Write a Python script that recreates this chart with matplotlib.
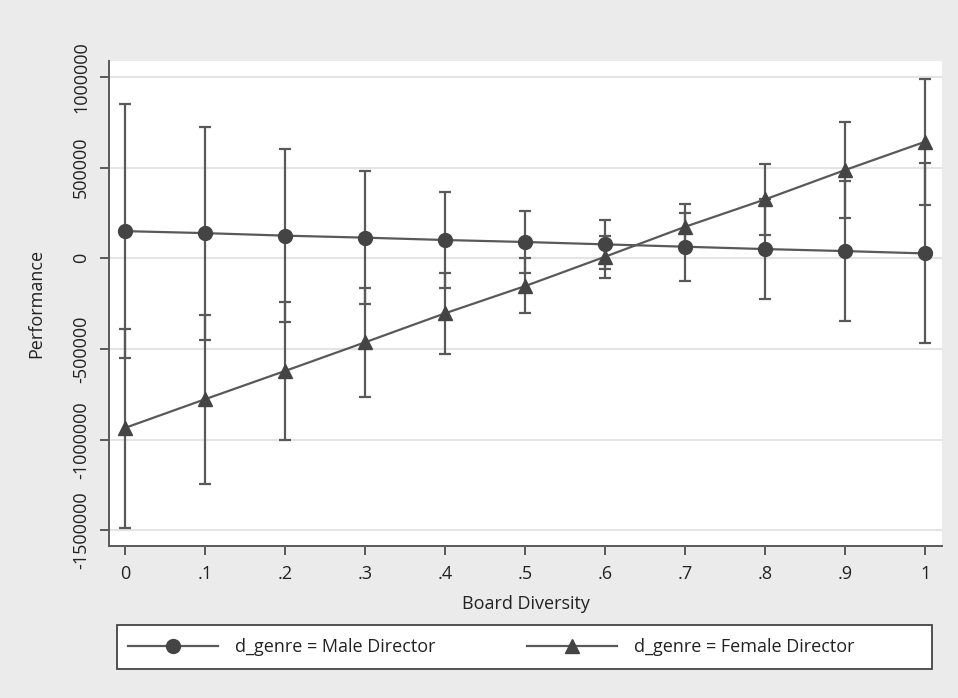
import numpy as np
import matplotlib
matplotlib.use("Agg")
import matplotlib.pyplot as plt
from matplotlib.patches import Rectangle

plt.rcParams['font.family'] = ['Open Sans', 'DejaVu Sans']

# board diversity levels
diversity = [0, .1, .2, .3, .4, .5, .6, .7, .8, .9, 1]
xtick_labels = ["0", ".1", ".2", ".3", ".4", ".5", ".6", ".7", ".8", ".9", "1"]

# predicted performance, male directors
male_mean = [150000, 139000, 125000, 114000, 101000, 90000, 77000, 64000, 51000, 40000, 27000]
male_lo = [-550000, -450000, -350000, -252000, -162000, -83000, -57000, -123000, -226000, -344000, -469000]
male_hi = [852000, 726000, 602000, 481000, 364000, 262000, 211000, 251000, 328000, 424000, 523000]

# predicted performance, female directors
female_mean = [-935000, -777000, -621000, -463000, -303000, -153000, 9000, 174000, 325000, 487000, 643000]
female_lo = [-1485000, -1244000, -1002000, -763000, -528000, -303000, -107000, 49000, 130000, 220000, 295000]
female_hi = [-390000, -315000, -243000, -166000, -82000, 2000, 123000, 299000, 518000, 751000, 988000]

yticks = [-1500000, -1000000, -500000, 0, 500000, 1000000]

bg = "#eaebea"
ink = "#595959"
dark = "#444444"
txt = "#222222"

fig = plt.figure(figsize=(9.58, 6.98), dpi=100, facecolor=bg)
ax = fig.add_axes([0.1138, 0.2178, 0.8695, 0.6948])
ax.set_facecolor("white")

for mean, lo, hi in [(male_mean, male_lo, male_hi), (female_mean, female_lo, female_hi)]:
    mean = np.array(mean)
    err = [mean - np.array(lo), np.array(hi) - mean]
    ax.errorbar(diversity, mean, yerr=err, fmt="none", ecolor=ink,
                elinewidth=1.6, capsize=4.5, capthick=1.6, zorder=2)

m_line, = ax.plot(diversity, male_mean, color=ink, lw=1.6, marker="o", ms=10,
                  mfc=dark, mec=dark, label="d_genre = Male Director", zorder=3)
f_line, = ax.plot(diversity, female_mean, color=ink, lw=1.6, marker="^", ms=10,
                  mfc=dark, mec=dark, label="d_genre = Female Director", zorder=3)

ax.set_xlim(-0.02, 1.021)
ax.set_ylim(-1586000, 1088000)
ax.set_xticks(diversity)
ax.set_xticklabels(xtick_labels)
ax.set_yticks(yticks)
ax.set_yticklabels([str(v) for v in yticks], rotation=90, va="center")
ax.grid(axis="y", color="#e4e4e4", lw=1.5)
ax.set_axisbelow(True)

for s in ["top", "right"]:
    ax.spines[s].set_visible(False)
for s in ["left", "bottom"]:
    ax.spines[s].set_color(ink)
    ax.spines[s].set_linewidth(1.4)

ax.tick_params(colors=ink, labelcolor=txt, labelsize=13, length=6.5, width=1.4)
ax.tick_params(axis="x", pad=7)
ax.tick_params(axis="y", pad=7)
ax.set_xlabel("Board Diversity", fontsize=13, color=txt, labelpad=9)
ax.set_ylabel("Performance", fontsize=13, color=txt)
ax.yaxis.set_label_coords(-0.0768, 0.5)

# legend box spanning the width, entries placed inside it
fig.patches.append(Rectangle((117 / 958, 1 - 669 / 698), (932 - 117) / 958, 44 / 698,
                             transform=fig.transFigure, facecolor="white",
                             edgecolor=dark, lw=1.3, zorder=1))
for handle, left in [(m_line, 128), (f_line, 527)]:
    leg = fig.legend(handles=[handle], loc="center left",
                     bbox_to_anchor=(left / 958, 1 - 647 / 698), fontsize=13,
                     frameon=False, handlelength=5.0, handletextpad=0.9,
                     borderpad=0, borderaxespad=0)
    for t in leg.get_texts():
        t.set_color(txt)

fig.savefig("out.png", dpi=100, facecolor=bg)
